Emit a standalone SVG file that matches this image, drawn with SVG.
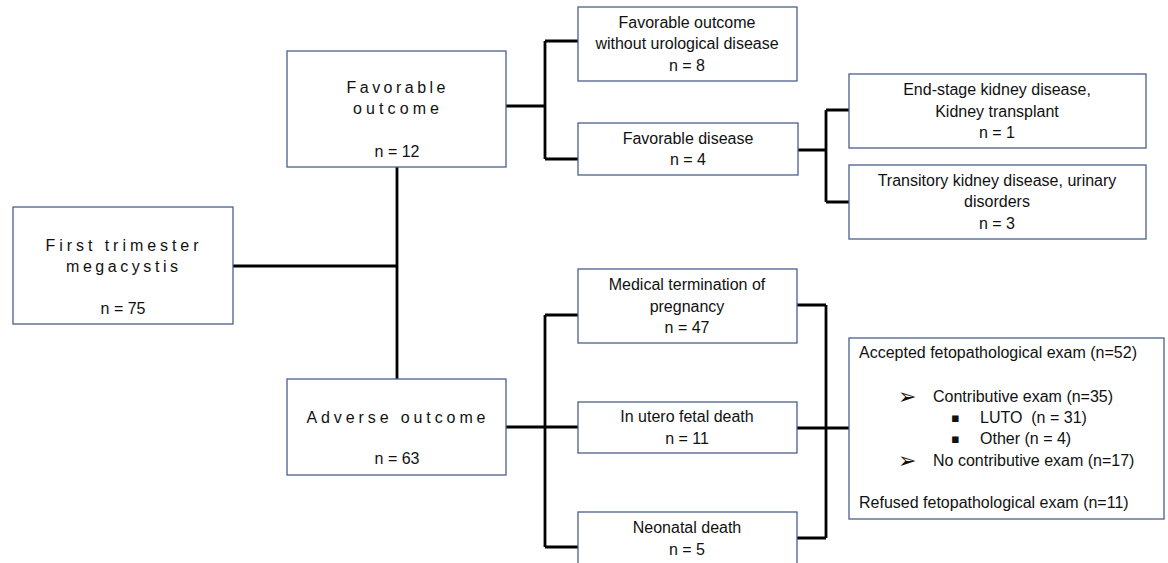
<svg xmlns="http://www.w3.org/2000/svg" width="1168" height="563" viewBox="0 0 1168 563">
<style>
.box{fill:#fff;stroke:#4a5f8f;stroke-width:1.3}
.t{font-family:"Liberation Sans",Arial,sans-serif;font-size:16px;fill:#111;text-anchor:middle}
.l{text-anchor:start}
.sym{font-family:"DejaVu Sans",sans-serif;font-size:22px;fill:#111}
.bul{font-family:"DejaVu Sans",sans-serif;font-size:13px;fill:#111}
.c{fill:none;stroke:#000;stroke-width:2.8;stroke-linejoin:miter}
</style>
<rect width="1168" height="563" fill="#fff"/>
<g id="connectors">
<path class="c" d="M233 266H397M397 167V379"/>
<path class="c" d="M506 106H545M545 41V159M545 41H578M545 159H578"/>
<path class="c" d="M798 150H826M826 110V202M826 110H849M826 202H849"/>
<path class="c" d="M506 427H545M545 315V547M545 315H578M545 427H578M545 547H578"/>
<path class="c" d="M797 305H826M797 428H849M797 538H826M826 305V538"/>
</g>
<g id="first">
<rect class="box" x="13" y="207" width="220" height="117"/>
<text class="t" x="122" y="251" textLength="153" lengthAdjust="spacing">First trimester</text>
<text class="t" x="122" y="272" textLength="112" lengthAdjust="spacing">megacystis</text>
<text class="t" x="123" y="314">n = 75</text>
</g>
<g id="favorable">
<rect class="box" x="287" y="51" width="219" height="116"/>
<text class="t" x="396" y="93" textLength="99" lengthAdjust="spacing">Favorable</text>
<text class="t" x="396" y="114" textLength="86" lengthAdjust="spacing">outcome</text>
<text class="t" x="397" y="157">n = 12</text>
</g>
<g id="adverse">
<rect class="box" x="287" y="379" width="219" height="96"/>
<text class="t" x="396" y="423" textLength="179" lengthAdjust="spacing">Adverse outcome</text>
<text class="t" x="397" y="464">n = 63</text>
</g>
<g id="fav-nouro">
<rect class="box" x="578" y="7" width="219" height="74"/>
<text class="t" x="687" y="28">Favorable outcome</text>
<text class="t" x="687" y="49">without urological disease</text>
<text class="t" x="687" y="71">n = 8</text>
</g>
<g id="fav-disease">
<rect class="box" x="578" y="123" width="220" height="52"/>
<text class="t" x="688" y="144">Favorable disease</text>
<text class="t" x="688" y="165">n = 4</text>
</g>
<g id="endstage">
<rect class="box" x="849" y="74" width="297" height="74"/>
<text class="t" x="997" y="95">End-stage kidney disease,</text>
<text class="t" x="997" y="117">Kidney transplant</text>
<text class="t" x="997" y="138">n = 1</text>
</g>
<g id="transitory">
<rect class="box" x="849" y="165" width="297" height="74"/>
<text class="t" x="997" y="186">Transitory kidney disease, urinary</text>
<text class="t" x="997" y="207">disorders</text>
<text class="t" x="997" y="229">n = 3</text>
</g>
<g id="mtp">
<rect class="box" x="578" y="269" width="219" height="74"/>
<text class="t" x="687" y="290">Medical termination of</text>
<text class="t" x="687" y="312">pregnancy</text>
<text class="t" x="687" y="333">n = 47</text>
</g>
<g id="iufd">
<rect class="box" x="578" y="402" width="219" height="51"/>
<text class="t" x="687" y="422">In utero fetal death</text>
<text class="t" x="687" y="444">n = 11</text>
</g>
<g id="neonatal">
<rect class="box" x="578" y="512" width="219" height="70"/>
<text class="t" x="687" y="533">Neonatal death</text>
<text class="t" x="687" y="555">n = 5</text>
</g>
<g id="exam">
<rect class="box" x="849" y="338" width="315" height="181"/>
<text class="t l" x="859" y="358">Accepted fetopathological exam (n=52)</text>
<text class="sym" x="898" y="404">➢</text>
<text class="t l" x="933" y="402">Contributive exam (n=35)</text>
<text class="bul" x="951" y="422">▪</text>
<text class="t l" x="980" y="423" style="white-space:pre">LUTO  (n = 31)</text>
<text class="bul" x="951" y="443">▪</text>
<text class="t l" x="980" y="444">Other (n = 4)</text>
<text class="sym" x="898" y="468">➢</text>
<text class="t l" x="933" y="466">No contributive exam (n=17)</text>
<text class="t l" x="859" y="508">Refused fetopathological exam (n=11)</text>
</g>
</svg>
